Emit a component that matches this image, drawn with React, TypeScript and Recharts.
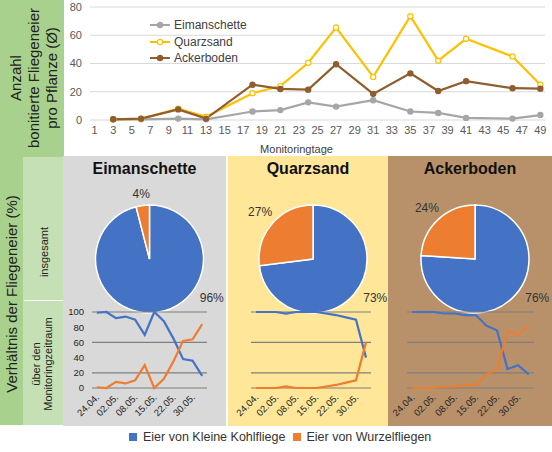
import React from 'react'
import { LineChart, Line, XAxis, YAxis, CartesianGrid, Legend, PieChart, Pie, Cell } from 'recharts'

// Top chart: eggs per plant on the monitoring days
const DAYS = [3, 6, 10, 13, 18, 21, 24, 27, 31, 35, 38, 41, 46, 49]
const EIMANSCHETTE = [0.5, 0.5, 1, 0.5, 6, 7, 12.5, 9.5, 14, 6, 5, 1.5, 1, 3.5]
const QUARZSAND = [0.5, 0.8, 8, 2.3, 19, 24, 40.5, 65.5, 30.5, 73.5, 42, 57.5, 45, 25]
const ACKERBODEN = [0.5, 1, 7.5, 1, 25, 22, 21.5, 39.5, 18.5, 33, 20.5, 27.5, 22.5, 22.2]
const DAY_TICKS = [1, 3, 5, 7, 9, 11, 13, 15, 17, 19, 21, 23, 25, 27, 29, 31, 33, 35, 37, 39, 41, 43, 45, 47, 49]
const COUNT_TICKS = [0, 20, 40, 60, 80]

// Bottom charts: share of eggs (%) over the monitoring period
const DATES = ['24.04.', '27.04.', '02.05.', '05.05.', '08.05.', '12.05.', '15.05.', '19.05.', '22.05.', '26.05.', '30.05.', '02.06.']
const EIM_KOHL = [99, 100, 92, 94, 90, 70, 100, 88, 65, 38, 36, 16]
const EIM_WURZEL = [1, 0, 8, 6, 10, 30, 0, 12, 35, 62, 64, 84]
const QUARZ_KOHL = [100, 100, 100, 98, 100, 100, 100, 98, 96, 93, 90, 40]
const QUARZ_WURZEL = [0, 0, 0, 2, 0, 0, 0, 2, 4, 7, 10, 60]
const ACKER_KOHL = [100, 100, 100, 98, 98, 96, 96, 82, 76, 25, 30, 18]
const ACKER_WURZEL = [0, 0, 0, 2, 2, 4, 4, 18, 24, 75, 70, 82]
const SHARE_TICKS = [0, 20, 40, 60, 80, 100]

// Pies: share overall
const PIE_NAMES = ['Eier von Kleine Kohlfliege', 'Eier von Wurzelfliegen']
const EIM_PIE = [96, 4]
const QUARZ_PIE = [73, 27]
const ACKER_PIE = [76, 24]

const BLUE = '#4472c4'
const ORANGE = '#ed7d31'
const FONT = '"Liberation Sans", Arial, sans-serif'

const SERIES = [
  { key: 'eim', name: 'Eimanschette', color: '#a6a6a6', dotFill: '#a6a6a6' },
  { key: 'quarz', name: 'Quarzsand', color: '#ffc000', dotFill: '#ffffff' },
  { key: 'acker', name: 'Ackerboden', color: '#8f5d2e', dotFill: '#8f5d2e' },
]

const topData = DAYS.map((day, i) => ({
  day,
  eim: EIMANSCHETTE[i],
  quarz: QUARZSAND[i],
  acker: ACKERBODEN[i],
}))

const PANELS = [
  { title: 'Eimanschette', left: 63, width: 163, bg: '#d9d9d9', kohl: EIM_KOHL, wurzel: EIM_WURZEL, pie: EIM_PIE, plotLeft: 29, plotRight: 19, showY: true },
  { title: 'Quarzsand', left: 228, width: 160, bg: '#ffe699', kohl: QUARZ_KOHL, wurzel: QUARZ_WURZEL, pie: QUARZ_PIE, plotLeft: 23, plotRight: 17, showY: false },
  { title: 'Ackerboden', left: 388, width: 164, bg: '#b8916a', kohl: ACKER_KOHL, wurzel: ACKER_WURZEL, pie: ACKER_PIE, plotLeft: 19, plotRight: 18, showY: false },
]

function RotatedText({ left, top, width, height, lines, fontSize, lineHeight, color = '#222' }: any) {
  return (
    <div
      style={{
        position: 'absolute',
        left: left + (width - height) / 2,
        top: top + (height - width) / 2,
        width: height,
        height: width,
        transform: 'rotate(-90deg)',
        display: 'flex',
        flexDirection: 'column',
        justifyContent: 'center',
        alignItems: 'center',
        fontSize,
        lineHeight: `${lineHeight}px`,
        color,
        whiteSpace: 'nowrap',
      }}
    >
      {lines.map((l: string) => (
        <div key={l}>{l}</div>
      ))}
    </div>
  )
}

// legend keeps the series order (Recharts would sort it by name)
const TopLegend = () => (
  <div>
    {SERIES.map((s) => (
      <div key={s.key} style={{ display: 'flex', alignItems: 'center', height: 16.5, fontSize: 12, color: '#404040' }}>
        <svg width={22} height={10} style={{ marginRight: 2 }}>
          <line x1={0} y1={5} x2={20} y2={5} stroke={s.color} strokeWidth={2} />
          <circle cx={10} cy={5} r={2.6} fill={s.dotFill} stroke={s.color} strokeWidth={1.2} />
        </svg>
        <span>{s.name}</span>
      </div>
    ))}
  </div>
)

const RAD = Math.PI / 180
const renderPieLabel = (props: any) => {
  const { cx, cy, midAngle, outerRadius, value, index } = props
  const text = `${value}%`
  let angle = -32
  let dist = outerRadius * 1.36
  if (index === 1) {
    angle = midAngle
    const halfW = (text.length * 6.7) / 2
    dist = outerRadius + 5 + Math.abs(Math.cos(angle * RAD)) * halfW + Math.abs(Math.sin(angle * RAD)) * 6
  }
  const x = cx + dist * Math.cos(angle * RAD)
  const y = cy - dist * Math.sin(angle * RAD)
  return (
    <text x={x} y={y} textAnchor="middle" dominantBaseline="central" fontSize={12} fill="#333" fontFamily={FONT}>
      {text}
    </text>
  )
}

const DateTick = ({ x, y, payload }: any) => (
  <text
    x={x + 3}
    y={y + 2}
    transform={`rotate(-45 ${x + 3} ${y + 2})`}
    textAnchor="end"
    fontSize={9.5}
    fill="#262626"
    fontFamily={FONT}
  >
    {payload.value}
  </text>
)

function Panel({ p }: any) {
  const chartW = p.width
  const plotW = chartW - p.plotLeft - p.plotRight
  const pad = plotW / 24
  const lineData = DATES.map((d, i) => ({ date: d, kohl: p.kohl[i], wurzel: p.wurzel[i] }))
  const pieData = PIE_NAMES.map((n, i) => ({ name: n, value: p.pie[i] }))
  return (
    <div style={{ position: 'absolute', left: p.left, top: 156, width: p.width, height: 270, background: p.bg }}>
      <div
        style={{
          position: 'absolute',
          left: 0,
          top: 4,
          width: p.width,
          textAlign: 'center',
          fontSize: 16,
          fontWeight: 'bold',
          color: '#111',
        }}
      >
        {p.title}
      </div>
      <div style={{ position: 'absolute', left: 0, top: 0 }}>
        <PieChart width={chartW} height={160}>
          <Pie
            data={pieData}
            dataKey="value"
            cx={chartW / 2}
            cy={98}
            outerRadius={54}
            startAngle={90}
            endAngle={-270}
            stroke="#ffffff"
            strokeWidth={1.5}
            label={renderPieLabel}
            labelLine={false}
            isAnimationActive={false}
          >
            <Cell fill={BLUE} />
            <Cell fill={ORANGE} />
          </Pie>
        </PieChart>
      </div>
      <div style={{ position: 'absolute', left: 0, top: 144 }}>
        <LineChart
          width={chartW}
          height={126}
          data={lineData}
          margin={{ top: 12, right: p.plotRight, bottom: 2, left: p.showY ? p.plotLeft - 26 : p.plotLeft }}
        >
          <CartesianGrid vertical={false} stroke="#7f7f7f" strokeWidth={1.2} />
          <XAxis
            dataKey="date"
            interval={1}
            padding={{ left: pad, right: pad }}
            axisLine={false}
            tickLine={false}
            height={36}
            tick={<DateTick />}
          />
          <YAxis
            domain={[0, 100]}
            ticks={SHARE_TICKS}
            hide={!p.showY}
            width={26}
            axisLine={false}
            tickLine={false}
            tick={{ fontSize: 9.5, fill: '#262626', fontFamily: FONT }}
          />
          <Line dataKey="kohl" stroke={BLUE} strokeWidth={2.2} dot={false} isAnimationActive={false} />
          <Line dataKey="wurzel" stroke={ORANGE} strokeWidth={2.2} dot={false} isAnimationActive={false} />
        </LineChart>
      </div>
    </div>
  )
}

export default function App() {
  return (
    <div style={{ position: 'absolute', left: 0, top: 0, width: 552, height: 452, background: '#fff', fontFamily: FONT }}>
      {/* left label strips */}
      <div style={{ position: 'absolute', left: 0, top: 0, width: 64, height: 425, background: '#a9d18e' }} />
      <div style={{ position: 'absolute', left: 23, top: 157, width: 40, height: 268, background: '#c5e0b4' }} />
      <div style={{ position: 'absolute', left: 24, top: 299.5, width: 39, height: 1.5, background: '#fff' }} />
      <RotatedText
        left={1}
        top={0}
        width={66}
        height={156}
        fontSize={15}
        lineHeight={18}
        lines={['Anzahl', 'bonitierte  Fliegeneier', 'pro Pflanze  (Ø)']}
      />
      <RotatedText left={0} top={157} width={24} height={274} fontSize={15} lineHeight={18} lines={['Verhältnis der  Fliegeneier  (%)']} />
      <RotatedText left={24} top={200} width={40} height={104} fontSize={11} lineHeight={13} lines={['insgesamt']} />
      <RotatedText left={22} top={301} width={40} height={126} fontSize={11} lineHeight={12} lines={['über den', 'Monitoringzeitraum']} />

      {/* top line chart */}
      <div style={{ position: 'absolute', left: 64, top: 0 }}>
        <LineChart width={488} height={157} data={topData} margin={{ top: 7, right: 7, bottom: 0, left: 2 }}>
          <CartesianGrid vertical={false} stroke="#d9d9d9" />
          <XAxis
            dataKey="day"
            type="number"
            domain={[0.5, 49.5]}
            ticks={DAY_TICKS}
            interval={0}
            axisLine={false}
            tickLine={false}
            tickMargin={0}
            height={37}
            tick={{ fontSize: 11, fill: '#595959', fontFamily: FONT }}
            label={{ value: 'Monitoringtage', position: 'insideBottom', offset: 4, dx: -21, fontSize: 11, fill: '#404040' }}
          />
          <YAxis
            domain={[0, 80]}
            ticks={COUNT_TICKS}
            width={24}
            axisLine={false}
            tickLine={false}
            tick={{ fontSize: 11, fill: '#595959', fontFamily: FONT }}
          />
          {/* center + middle: the legend floats and takes no room from the plot */}
          <Legend
            layout="vertical"
            align="center"
            verticalAlign="middle"
            content={<TopLegend />}
            wrapperStyle={{ left: 86, top: 17, width: 'auto', height: 'auto' }}
          />
          {SERIES.map((s) => (
            <Line
              key={s.key}
              dataKey={s.key}
              name={s.name}
              stroke={s.color}
              strokeWidth={2.2}
              dot={{ r: 2.6, fill: s.dotFill, stroke: s.color, strokeWidth: 1.2 }}
              isAnimationActive={false}
            />
          ))}
        </LineChart>
      </div>

      {PANELS.map((p) => (
        <Panel key={p.title} p={p} />
      ))}

      {/* bottom legend */}
      <div
        style={{
          position: 'absolute',
          left: 129,
          top: 429,
          height: 16,
          display: 'flex',
          alignItems: 'center',
          fontSize: 12.5,
          color: '#333',
          whiteSpace: 'nowrap',
        }}
      >
        <span style={{ width: 8, height: 8, background: BLUE, display: 'inline-block', marginRight: 6 }} />
        <span style={{ marginRight: 8 }}>{PIE_NAMES[0]}</span>
        <span style={{ width: 8, height: 8, background: ORANGE, display: 'inline-block', marginRight: 5 }} />
        <span>{PIE_NAMES[1]}</span>
      </div>
    </div>
  )
}
